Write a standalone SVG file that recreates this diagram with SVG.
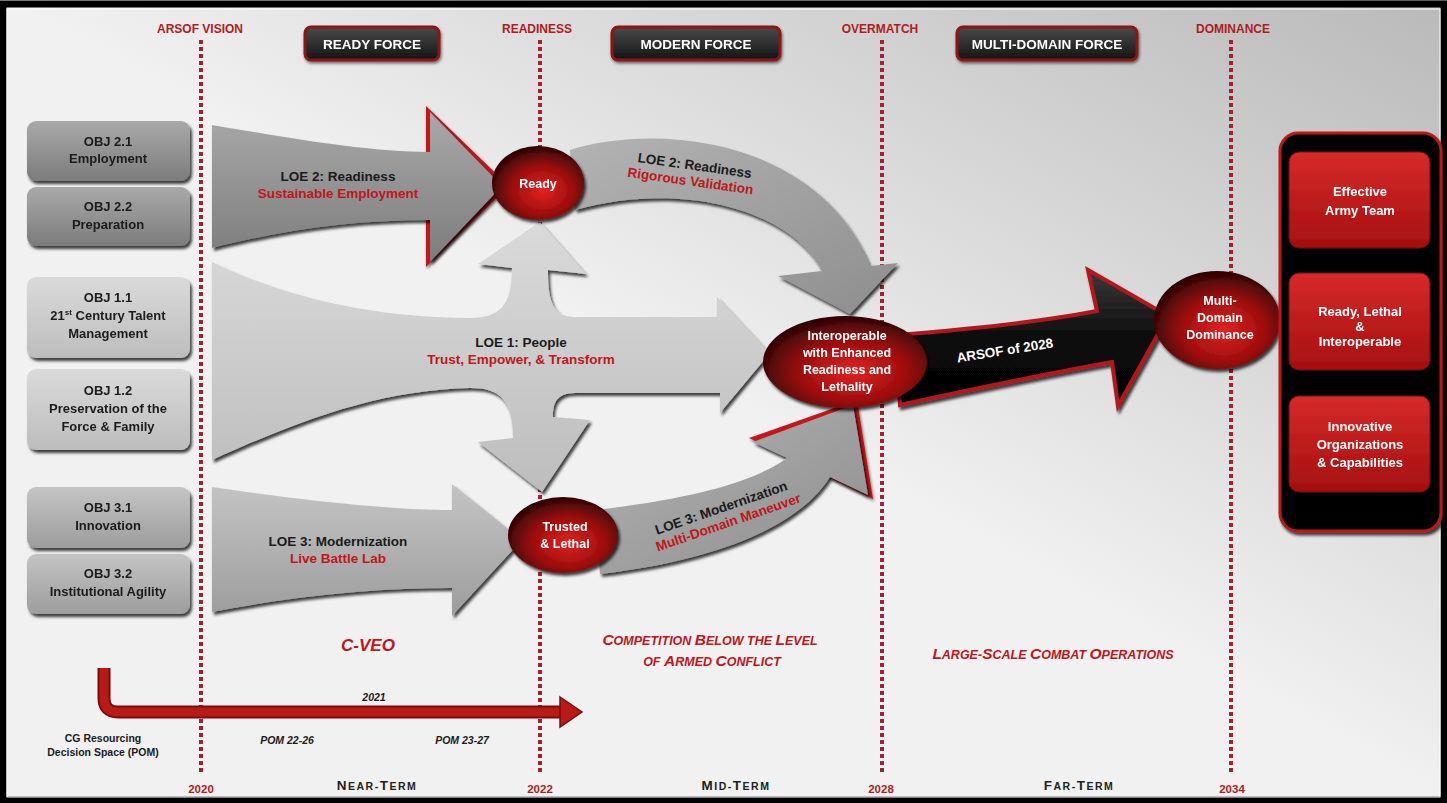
<svg xmlns="http://www.w3.org/2000/svg" width="1447" height="803" viewBox="0 0 1447 803">
  <defs>
    <linearGradient id="bg" x1="0.5" y1="0.5" x2="1" y2="0">
      <stop offset="0" stop-color="#f1f1f1"/>
      <stop offset="1" stop-color="#b9b9b9"/>
    </linearGradient>
    <linearGradient id="gDark" x1="0" y1="0" x2="0" y2="1">
      <stop offset="0" stop-color="#a9a9a9"/>
      <stop offset="1" stop-color="#7c7c7c"/>
    </linearGradient>
    <linearGradient id="gLight" x1="0" y1="0" x2="0" y2="1">
      <stop offset="0" stop-color="#dadada"/>
      <stop offset="1" stop-color="#bdbdbd"/>
    </linearGradient>
    <linearGradient id="gMid" x1="0" y1="0" x2="0" y2="1">
      <stop offset="0" stop-color="#c4c4c4"/>
      <stop offset="1" stop-color="#9d9d9d"/>
    </linearGradient>
    <linearGradient id="gArc" x1="0" y1="0" x2="1" y2="1">
      <stop offset="0" stop-color="#b3b3b3"/>
      <stop offset="1" stop-color="#8e8e8e"/>
    </linearGradient>
    <linearGradient id="gBlack" x1="0" y1="0" x2="0" y2="1">
      <stop offset="0" stop-color="#3a3a3a"/>
      <stop offset="0.5" stop-color="#0c0c0c"/>
      <stop offset="1" stop-color="#000"/>
    </linearGradient>
    <linearGradient id="gBtn" x1="0" y1="0" x2="0" y2="1">
      <stop offset="0" stop-color="#4a4a4a"/>
      <stop offset="1" stop-color="#141414"/>
    </linearGradient>
    <linearGradient id="gRedBox" x1="0" y1="0" x2="0" y2="1">
      <stop offset="0" stop-color="#d72a2a"/>
      <stop offset="1" stop-color="#a50f0f"/>
    </linearGradient>
    <radialGradient id="gOval" cx="0.55" cy="0.6" r="0.6">
      <stop offset="0" stop-color="#e32222"/>
      <stop offset="0.55" stop-color="#9c0d0d"/>
      <stop offset="1" stop-color="#2c0404"/>
    </radialGradient>
    <filter id="sh" x="-10%" y="-10%" width="125%" height="130%">
      <feDropShadow dx="2" dy="3" stdDeviation="1.8" flood-color="#000" flood-opacity="0.75"/>
    </filter>
    <filter id="shs" x="-10%" y="-10%" width="125%" height="130%">
      <feDropShadow dx="1" dy="2" stdDeviation="1.5" flood-color="#000" flood-opacity="0.55"/>
    </filter>
  </defs>
  <style>
    text { font-family: "Liberation Sans", Arial, sans-serif; font-weight: bold; text-anchor: middle; }
    .obj { font-size: 13px; fill: #1b1b1b; }
    .loe { font-size: 13.5px; fill: #1b1b1b; }
    .sub { font-size: 13.5px; fill: #c0161c; }
    .oval { font-size: 12.5px; fill: #fff; }
    .goal { font-size: 13px; fill: #fff; }
    .mark { font-size: 12px; fill: #b01c22; }
    .year { font-size: 11.5px; fill: #b01c22; }
    .btn { font-size: 13.5px; fill: #fff; }
    .era { font-style: italic; fill: #c0161c; }
    .term { fill: #222; letter-spacing: 1.5px; }
    .pom { font-size: 10.5px; font-style: italic; fill: #1b1b1b; }
    .cg { font-size: 10.5px; fill: #1b1b1b; }
    .dots { stroke: #a3222e; stroke-width: 4; stroke-dasharray: 4 3; fill: none; }
  </style>

  <!-- background and frame -->
  <rect x="0" y="0" width="1447" height="803" fill="url(#bg)"/>
  <rect x="3" y="4" width="1441" height="796" fill="none" stroke="#000" stroke-width="7"/>
  <rect x="7" y="9" width="1433" height="788" fill="none" stroke="#fff" stroke-width="1"/>

  <!-- milestone lines -->
  <g id="milestones">
    <line class="dots" x1="201" y1="40" x2="201" y2="775"/>
    <line class="dots" x1="540" y1="40" x2="540" y2="775"/>
    <line class="dots" x1="882" y1="40" x2="882" y2="775"/>
    <line class="dots" x1="1231" y1="40" x2="1231" y2="775"/>
    <text class="mark" x="200" y="33">ARSOF VISION</text>
    <text class="mark" x="537" y="33">READINESS</text>
    <text class="mark" x="880" y="33">OVERMATCH</text>
    <text class="mark" x="1233" y="33">DOMINANCE</text>
    <text class="year" x="201" y="793">2020</text>
    <text class="year" x="540" y="793">2022</text>
    <text class="year" x="881" y="793">2028</text>
    <text class="year" x="1232" y="793">2034</text>
  </g>

  <!-- phase buttons -->
  <g id="ready-force" filter="url(#shs)">
    <rect x="305" y="27" width="134" height="33" rx="6" fill="url(#gBtn)" stroke="#8c1414" stroke-width="3"/>
    <text class="btn" x="372" y="49">READY FORCE</text>
  </g>
  <g id="modern-force" filter="url(#shs)">
    <rect x="612" y="27" width="168" height="33" rx="6" fill="url(#gBtn)" stroke="#8c1414" stroke-width="3"/>
    <text class="btn" x="696" y="49">MODERN FORCE</text>
  </g>
  <g id="multi-domain-force" filter="url(#shs)">
    <rect x="957" y="27" width="180" height="33" rx="6" fill="url(#gBtn)" stroke="#8c1414" stroke-width="3"/>
    <text class="btn" x="1047" y="49">MULTI-DOMAIN FORCE</text>
  </g>

  <!-- objectives -->
  <g id="obj-2-1" filter="url(#sh)">
    <rect x="27" y="121" width="163" height="60" rx="9" fill="url(#gDark)"/>
    <text class="obj" x="108" y="146">OBJ 2.1</text>
    <text class="obj" x="108" y="163">Employment</text>
  </g>
  <g id="obj-2-2" filter="url(#sh)">
    <rect x="27" y="187" width="163" height="59" rx="9" fill="url(#gDark)"/>
    <text class="obj" x="108" y="211">OBJ 2.2</text>
    <text class="obj" x="108" y="229">Preparation</text>
  </g>
  <g id="obj-1-1" filter="url(#sh)">
    <rect x="27" y="277" width="163" height="81" rx="9" fill="url(#gLight)"/>
    <text class="obj" x="108" y="302">OBJ 1.1</text>
    <text class="obj" x="108" y="320">21<tspan font-size="8" dy="-5">st</tspan><tspan dy="5"> Century Talent</tspan></text>
    <text class="obj" x="108" y="338">Management</text>
  </g>
  <g id="obj-1-2" filter="url(#sh)">
    <rect x="27" y="369" width="163" height="81" rx="9" fill="url(#gLight)"/>
    <text class="obj" x="108" y="395">OBJ 1.2</text>
    <text class="obj" x="108" y="413">Preservation of the</text>
    <text class="obj" x="108" y="431">Force &amp; Family</text>
  </g>
  <g id="obj-3-1" filter="url(#sh)">
    <rect x="27" y="487" width="163" height="61" rx="9" fill="url(#gMid)"/>
    <text class="obj" x="108" y="512">OBJ 3.1</text>
    <text class="obj" x="108" y="530">Innovation</text>
  </g>
  <g id="obj-3-2" filter="url(#sh)">
    <rect x="27" y="554" width="163" height="60" rx="9" fill="url(#gMid)"/>
    <text class="obj" x="108" y="578">OBJ 3.2</text>
    <text class="obj" x="108" y="596">Institutional Agility</text>
  </g>

  <!-- lines of effort -->
  <g id="connectors">
    <!-- LOE 2 into Ready -->
    <polygon points="426,106 509,186 426,267" fill="#c4161c" filter="url(#shs)"/>
    <path d="M 212,125 C 300,140 370,152 430,152 L 430,112 L 502,186 L 430,262 L 430,220 C 360,220 290,228 212,248 Z" fill="url(#gDark)" filter="url(#sh)"/>
    <text class="loe" x="338" y="181">LOE 2: Readiness</text>
    <text class="sub" x="338" y="198">Sustainable Employment</text>

    <!-- LOE 2 from Ready to the interoperable force -->
    <path d="M 570,150 C 660,122 820,140 870,266 L 898,263 L 850,314 L 778,276 L 822,271 C 795,215 690,178 575,210 Z" fill="url(#gArc)" filter="url(#sh)"/>
    <g transform="rotate(8 694 170)">
      <text class="loe" x="694" y="170">LOE 2: Readiness</text>
      <text class="sub" x="692" y="186">Rigorous Validation</text>
    </g>

    <!-- LOE 1 with branches up to Ready and down to Trusted & Lethal -->
    <path d="M 212,262 C 290,300 380,318 470,318 C 500,318 512,305 512,268 L 478,264 L 540,222 L 586,274 L 548,270 C 548,300 552,317 575,317 L 717,317 L 717,297 L 770,353 L 720,413 L 720,393 L 575,393 C 555,393 553,405 553,417 L 590,420 L 542,492 L 478,442 L 513,438 C 513,400 500,388 470,388 C 380,390 300,420 212,460 Z" fill="url(#gLight)" filter="url(#sh)"/>
    <text class="loe" x="521" y="347">LOE 1: People</text>
    <text class="sub" x="521" y="364">Trust, Empower, &amp; Transform</text>

    <!-- LOE 3 into Trusted & Lethal -->
    <path d="M 212,487 C 300,500 390,510 452,510 L 452,484 L 522,540 L 452,616 L 452,588 C 380,588 300,595 212,612 Z" fill="url(#gMid)" filter="url(#sh)"/>
    <text class="loe" x="338" y="546">LOE 3: Modernization</text>
    <text class="sub" x="338" y="563">Live Battle Lab</text>

    <!-- LOE 3 from Trusted & Lethal to the interoperable force -->
    <polygon points="749,438 857,400 873,499" fill="#c4161c" filter="url(#shs)"/>
    <path d="M 595,510 C 680,500 750,485 787,458 L 753,442 L 853,405 L 868,495 L 830,477 C 800,525 720,560 600,574 Z" fill="url(#gArc)" filter="url(#sh)"/>
    <g transform="rotate(-19 724 516)">
      <text class="loe" x="724" y="512">LOE 3: Modernization</text>
      <text class="sub" x="726" y="528">Multi-Domain Maneuver</text>
    </g>

    <!-- ARSOF of 2028 -->
    <path d="M 895,335 C 960,330 1040,322 1097,311 L 1088,270 L 1168,316 L 1118,406 L 1112,362 C 1040,375 960,392 900,405 Z" fill="url(#gBlack)" stroke="#b3191c" stroke-width="4" stroke-linejoin="miter" filter="url(#sh)"/>
    <text class="btn" x="1005" y="355" transform="rotate(-9 1005 351)">ARSOF of 2028</text>

    <!-- resourcing timeline -->
    <path d="M 104,668 L 104,698 Q 104,712 118,712 L 562,712" fill="none" stroke="#7a0c0c" stroke-width="13"/>
    <path d="M 104,668 L 104,698 Q 104,712 118,712 L 562,712" fill="none" stroke="#b81a1a" stroke-width="9"/>
    <polygon points="560,697 582,712 560,727" fill="#b81a1a" stroke="#7a0c0c" stroke-width="1.5"/>
  </g>

  <!-- effect ovals -->
  <g id="ready" filter="url(#sh)">
    <ellipse cx="538" cy="183" rx="46" ry="37" fill="url(#gOval)"/>
    <text class="oval" x="538" y="188" font-size="14">Ready</text>
  </g>
  <g id="trusted-lethal" filter="url(#sh)">
    <ellipse cx="563" cy="535" rx="55" ry="38" fill="url(#gOval)"/>
    <text class="oval" x="565" y="531">Trusted</text>
    <text class="oval" x="565" y="548">&amp; Lethal</text>
  </g>
  <g id="interoperable" filter="url(#sh)">
    <ellipse cx="845" cy="362" rx="82" ry="46" fill="url(#gOval)"/>
    <text class="oval" x="847" y="340">Interoperable</text>
    <text class="oval" x="847" y="357">with Enhanced</text>
    <text class="oval" x="847" y="374">Readiness and</text>
    <text class="oval" x="847" y="391">Lethality</text>
  </g>
  <g id="multi-domain-dominance" filter="url(#sh)">
    <ellipse cx="1217" cy="320" rx="63" ry="49" fill="url(#gOval)"/>
    <text class="oval" x="1220" y="305">Multi-</text>
    <text class="oval" x="1220" y="322">Domain</text>
    <text class="oval" x="1220" y="339">Dominance</text>
  </g>

  <!-- end-state panel -->
  <g id="end-state" filter="url(#sh)">
    <rect x="1280" y="133" width="161" height="398" rx="18" fill="#050505" stroke="#c01818" stroke-width="3"/>
    <rect x="1289" y="152" width="141" height="96" rx="10" fill="url(#gRedBox)" stroke="#6e0a0a" stroke-width="1"/>
    <text class="goal" x="1360" y="196">Effective</text>
    <text class="goal" x="1360" y="215">Army Team</text>
    <rect x="1289" y="273" width="141" height="97" rx="10" fill="url(#gRedBox)" stroke="#6e0a0a" stroke-width="1"/>
    <text class="goal" x="1360" y="316">Ready, Lethal</text>
    <text class="goal" x="1360" y="331">&amp;</text>
    <text class="goal" x="1360" y="346">Interoperable</text>
    <rect x="1289" y="396" width="141" height="96" rx="10" fill="url(#gRedBox)" stroke="#6e0a0a" stroke-width="1"/>
    <text class="goal" x="1360" y="431">Innovative</text>
    <text class="goal" x="1360" y="449">Organizations</text>
    <text class="goal" x="1360" y="467">&amp; Capabilities</text>
  </g>

  <!-- operating environments -->
  <g id="environments">
    <text class="era" x="368" y="651" font-size="17">C-VEO</text>
    <text class="era" x="710" y="645" font-size="12.5"><tspan font-size="15.5">C</tspan>OMPETITION <tspan font-size="15.5">B</tspan>ELOW THE <tspan font-size="15.5">L</tspan>EVEL</text>
    <text class="era" x="712" y="666" font-size="12.5">OF <tspan font-size="15.5">A</tspan>RMED <tspan font-size="15.5">C</tspan>ONFLICT</text>
    <text class="era" x="1053" y="659" font-size="12.5"><tspan font-size="15.5">L</tspan>ARGE-<tspan font-size="15.5">S</tspan>CALE <tspan font-size="15.5">C</tspan>OMBAT <tspan font-size="15.5">O</tspan>PERATIONS</text>
  </g>

  <!-- resourcing labels -->
  <g id="resourcing">
    <text class="pom" x="374" y="701">2021</text>
    <text class="pom" x="287" y="744">POM 22-26</text>
    <text class="pom" x="462" y="744">POM 23-27</text>
    <text class="cg" x="103" y="742">CG Resourcing</text>
    <text class="cg" x="103" y="756">Decision Space (POM)</text>
  </g>

  <!-- time horizons -->
  <g id="horizons">
    <text class="term" x="377" y="790" font-size="10.5"><tspan font-size="13.5">N</tspan>EAR-<tspan font-size="13.5">T</tspan>ERM</text>
    <text class="term" x="736" y="790" font-size="10.5"><tspan font-size="13.5">M</tspan>ID-<tspan font-size="13.5">T</tspan>ERM</text>
    <text class="term" x="1079" y="790" font-size="10.5"><tspan font-size="13.5">F</tspan>AR-<tspan font-size="13.5">T</tspan>ERM</text>
  </g>
</svg>
